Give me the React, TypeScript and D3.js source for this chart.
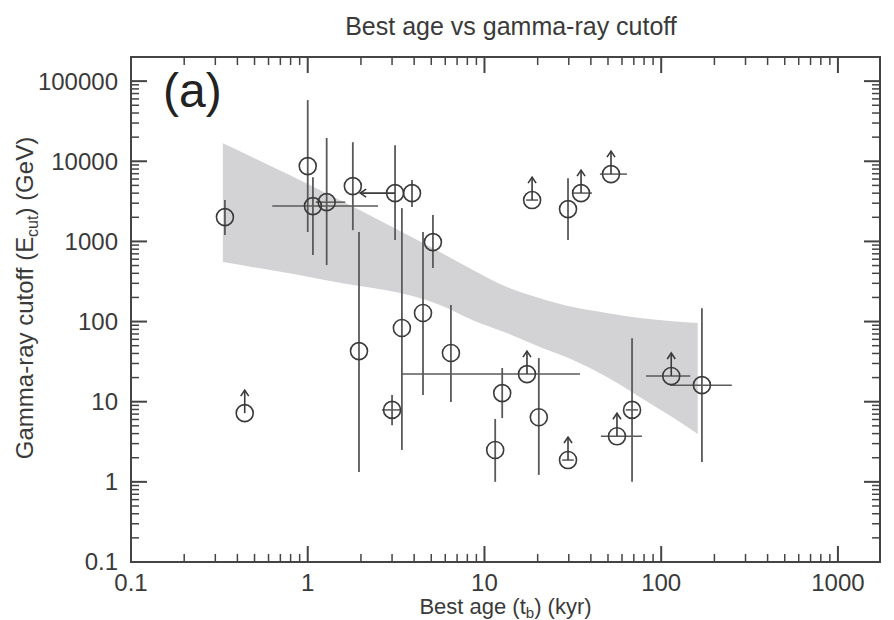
import React from 'react';
import * as d3 from 'd3';

// Remnant ages (kyr) and gamma-ray cutoff energies (GeV)
const ageKyr = [0.34, 0.44, 1.0, 1.07, 1.28, 1.8, 3.12, 3.89, 5.11, 1.95, 3.41, 3.0, 4.49, 6.46, 17.4, 12.6, 11.5, 20.3, 29.7, 56.2, 68.4, 114, 170, 18.6, 29.7, 35.2, 52];
const cutoffGeV = [2010, 7.2, 8700, 2760, 3090, 4900, 4010, 4010, 981, 42.8, 83, 7.9, 128, 40.5, 22.1, 12.8, 2.5, 6.4, 1.87, 3.7, 7.9, 20.9, 16.1, 3280, 2530, 4010, 6920];
const cutoffLow: (number | null)[] = [1200, null, 1310, 675, 507, 1380, 1040, 2680, 465, 1.33, 2.5, 5.1, 12.1, 9.9, null, 6.25, 1.0, 1.22, null, null, 1.0, null, 1.77, null, 1040, null, null];
const cutoffHigh: (number | null)[] = [3280, null, 57900, 6300, 19500, 17300, 15900, 5820, 2130, 1310, 2600, 12.1, 1310, 161, null, 26.3, 6.1, 35, null, null, 62, null, 147, null, 6160, null, null];
const ageLow: (number | null)[] = [null, null, null, 0.63, 1.11, null, null, null, null, null, null, 2.63, null, null, 3.41, null, null, null, 27.5, 45.6, 63, 82, 112, 17.2, null, 31.7, 45];
const ageHigh: (number | null)[] = [null, null, null, 2.5, 1.63, null, null, null, null, null, null, 3.33, null, null, 34.7, null, null, null, 32, 77.8, 74, 146, 251, 20.1, null, 40.6, 64];
// cutoff is only a lower limit for these sources
const cutoffIsLowerLimit = [false, true, false, false, false, false, false, false, false, false, false, false, false, false, true, false, false, false, true, true, false, true, false, true, false, true, true];
// age upper limit (arrow pointing to smaller ages)
const ageUpperLimitTo: (number | null)[] = [null, null, null, null, null, null, 1.98, null, null, null, null, null, null, null, null, null, null, null, null, null, null, null, null, null, null, null, null];

// Confidence band of the fitted relation
const bandAge = [0.331, 1.34, 5.6, 8.6, 13.4, 20.6, 31.7, 49.3, 75.9, 116, 161];
const bandUpper = [16800, 3780, 736, 439, 269, 196, 152, 128, 111, 101, 95.7];
const bandLower = [552, 320, 161, 104, 71.8, 48.1, 33.1, 20.3, 11.4, 6.4, 3.95];

const xTicks = [0.1, 1, 10, 100, 1000];
const xTickLabels = ['0.1', '1', '10', '100', '1000'];
const yTicks = [0.1, 1, 10, 100, 1000, 10000, 100000];
const yTickLabels = ['0.1', '1', '10', '100', '1000', '10000', '100000'];

const X_MIN = 0.1;
const X_MAX = 1730;
const Y_MIN = 0.1;
const Y_MAX = 200000;

const W = 894;
const H = 620;
const LEFT = 131;
const RIGHT = 880;
const TOP = 57;
const BOTTOM = 562;

const FONT = '"Liberation Sans", Arial, Helvetica, sans-serif';
const INK = '#3a3a3a';
const BAR = '#5a5a5a';

export default function App() {
  const x = d3.scaleLog().domain([X_MIN, X_MAX]).range([LEFT, RIGHT]);
  const y = d3.scaleLog().domain([Y_MIN, Y_MAX]).range([BOTTOM, TOP]);

  const minors = (ticks: number[], max: number) => {
    const out: number[] = [];
    ticks.forEach((d) => {
      for (let k = 2; k <= 9; k++) {
        const v = d * k;
        if (v < max) out.push(v);
      }
    });
    return out;
  };
  const xMinor = minors(xTicks, X_MAX);
  const yMinor = minors(yTicks, Y_MAX);

  const bandPath =
    d3
      .area<number>()
      .x((a) => x(a))
      .y0((_, i) => y(bandLower[i]))
      .y1((_, i) => y(bandUpper[i]))
      .curve(d3.curveMonotoneX)(bandAge) || '';

  const MAJ = 16;
  const MIN = 8;
  const R = 8.5;
  const ARROW = 23;
  const AGE_ARROW_HEAD = 5;

  return (
    <svg width={W} height={H} style={{ position: 'absolute', left: 0, top: 0, background: '#fff' }}>
      <rect x={0} y={0} width={W} height={H} fill="#fff" />
      <text x={511} y={35} textAnchor="middle" fontFamily={FONT} fontSize={25} fill={INK}>
        Best age vs gamma-ray cutoff
      </text>

      <path d={bandPath} fill="#d3d3d5" stroke="none" />

      {/* error bars */}
      <g stroke={BAR} strokeWidth={1.8} fill="none">
        {ageKyr.map((a, i) => {
          const cx = x(a);
          const cy = y(cutoffGeV[i]);
          const lo = cutoffLow[i];
          const hi = cutoffHigh[i];
          const xl = ageLow[i];
          const xh = ageHigh[i];
          return (
            <g key={i}>
              {lo != null && hi != null && <line x1={cx} x2={cx} y1={y(hi)} y2={y(lo)} />}
              {xl != null && xh != null && <line x1={x(xl)} x2={x(xh)} y1={cy} y2={cy} strokeWidth={1.5} />}
            </g>
          );
        })}
      </g>

      {/* limit arrows */}
      <g stroke={INK} strokeWidth={1.6} fill="none">
        {ageKyr.map((a, i) => {
          const cx = x(a);
          const cy = y(cutoffGeV[i]);
          const items: React.ReactNode[] = [];
          if (cutoffIsLowerLimit[i]) {
            const tip = cy - ARROW;
            items.push(<line key="l" x1={cx} x2={cx} y1={cy} y2={tip} />);
            items.push(<polyline key="h" points={`${cx - 4},${tip + 6} ${cx},${tip} ${cx + 4},${tip + 6}`} />);
          }
          const to = ageUpperLimitTo[i];
          if (to != null) {
            const tx = x(to);
            items.push(<line key="al" x1={cx} x2={tx} y1={cy} y2={cy} />);
            items.push(
              <polyline key="ah" points={`${tx + AGE_ARROW_HEAD + 1},${cy - 4} ${tx},${cy} ${tx + AGE_ARROW_HEAD + 1},${cy + 4}`} />
            );
          }
          return <g key={i}>{items}</g>;
        })}
      </g>

      {/* data points */}
      <g stroke={INK} strokeWidth={1.6} fill="none">
        {ageKyr.map((a, i) => (
          <circle key={i} cx={x(a)} cy={y(cutoffGeV[i])} r={R} />
        ))}
      </g>

      {/* frame and ticks */}
      <g stroke="#444" strokeWidth={2} fill="none">
        <rect x={LEFT} y={TOP} width={RIGHT - LEFT} height={BOTTOM - TOP} />
        {xTicks.map((t) => (
          <g key={'xt' + t}>
            <line x1={x(t)} x2={x(t)} y1={BOTTOM} y2={BOTTOM - MAJ} />
            <line x1={x(t)} x2={x(t)} y1={TOP} y2={TOP + MAJ} />
          </g>
        ))}
        {xMinor.map((t) => (
          <g key={'xm' + t} strokeWidth={1.5}>
            <line x1={x(t)} x2={x(t)} y1={BOTTOM} y2={BOTTOM - MIN} />
            <line x1={x(t)} x2={x(t)} y1={TOP} y2={TOP + MIN} />
          </g>
        ))}
        {yTicks.map((t) => (
          <g key={'yt' + t}>
            <line x1={LEFT} x2={LEFT + MAJ} y1={y(t)} y2={y(t)} />
            <line x1={RIGHT} x2={RIGHT - MAJ} y1={y(t)} y2={y(t)} />
          </g>
        ))}
        {yMinor.map((t) => (
          <g key={'ym' + t} strokeWidth={1.5}>
            <line x1={LEFT} x2={LEFT + MIN} y1={y(t)} y2={y(t)} />
            <line x1={RIGHT} x2={RIGHT - MIN} y1={y(t)} y2={y(t)} />
          </g>
        ))}
      </g>

      {/* tick labels */}
      <g fontFamily={FONT} fontSize={24} fill={INK}>
        {xTicks.map((t, i) => (
          <text key={'xl' + t} x={x(t)} y={BOTTOM + 29} textAnchor="middle">
            {xTickLabels[i]}
          </text>
        ))}
        {yTicks.map((t, i) => (
          <text key={'yl' + t} x={LEFT - 13} y={y(t)} dy="0.35em" textAnchor="end">
            {yTickLabels[i]}
          </text>
        ))}
      </g>

      {/* axis titles */}
      <text x={(LEFT + RIGHT) / 2} y={614} textAnchor="middle" fontFamily={FONT} fontSize={22} fill={INK}>
        Best age (t
        <tspan fontSize={15} dy={4}>b</tspan>
        <tspan dy={-4}>) (kyr)</tspan>
      </text>
      <text
        transform="translate(33, 298) rotate(-90)"
        textAnchor="middle"
        fontFamily={FONT}
        fontSize={24}
        fill={INK}
      >
        Gamma-ray cutoff (E
        <tspan fontSize={16} dy={5}>cut</tspan>
        <tspan dy={-5}>) (GeV)</tspan>
      </text>

      <text x={163} y={107} fontFamily={FONT} fontSize={48} fill="#222">
        (a)
      </text>
    </svg>
  );
}
